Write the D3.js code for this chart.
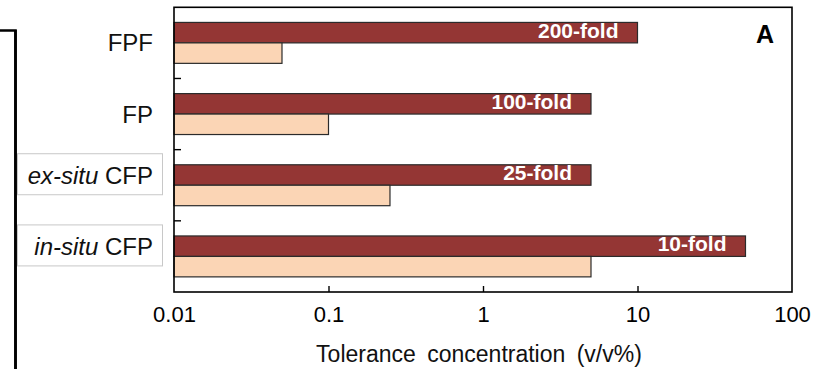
<!DOCTYPE html>
<html><head><meta charset="utf-8">
<script src="https://cdn.jsdelivr.net/npm/d3@7"></script>
<style>body{margin:0;background:#fff}svg{display:block}text{font-family:"Liberation Sans",Arial,sans-serif}</style>
</head><body>
<svg id="c" width="825" height="369"></svg>
<script>
const categories = ["FPF", "FP", "ex-situ CFP", "in-situ CFP"];
const enhancedValues = [10, 5, 5, 50];
const baseValues = [0.05, 0.1, 0.25, 5];
const foldLabels = ["200-fold", "100-fold", "25-fold", "10-fold"];
const xTickValues = [0.01, 0.1, 1, 10, 100];
const seriesKeys = ["enhanced", "base"];
const seriesColors = ["#943634", "#FBD5B5"];
const axisTitle = "Tolerance concentration (v/v%)";
const panelLabel = "A";

const svg = d3.select("#c");
const L = 174, R = 792, T = 7.3, B = 292;

const x = d3.scaleLog().domain([0.01, 100]).range([L, R]);
const y = d3.scaleBand().domain(categories).range([T, B]).paddingInner(0.425).paddingOuter(0.2125);
const ys = d3.scaleBand().domain(seriesKeys).range([0, y.bandwidth()]);

const rows = categories.map((c, i) => ({cat: c, enhanced: enhancedValues[i], base: baseValues[i], fold: foldLabels[i]}));

// bars
const g = svg.append("g");
rows.forEach(r => {
  seriesKeys.forEach((k, j) => {
    g.append("rect")
      .attr("x", x(0.01))
      .attr("y", y(r.cat) + ys(k))
      .attr("width", x(r[k]) - x(0.01))
      .attr("height", ys.bandwidth())
      .attr("fill", seriesColors[j])
      .attr("stroke", "#2b2b2b")
      .attr("stroke-width", 1.2);
  });
  g.append("text")
    .attr("x", x(r.enhanced) - 19)
    .attr("y", y(r.cat) + ys("enhanced") + ys.bandwidth() / 2 + 5)
    .attr("text-anchor", "end")
    .attr("fill", "#fff")
    .attr("font-weight", "bold")
    .attr("font-size", 21)
    .text(r.fold);
});

// frame
svg.append("rect").attr("x", L).attr("y", T).attr("width", R - L).attr("height", B - T)
  .attr("fill", "none").attr("stroke", "#000").attr("stroke-width", 1.6);

// x axis
const xAxis = d3.axisBottom(x).tickValues(xTickValues).tickFormat(d => String(d)).tickSizeInner(-6).tickSizeOuter(0).tickPadding(14);
const xg = svg.append("g").attr("transform", `translate(0,${B})`).call(xAxis);
xg.select(".domain").remove();
xg.selectAll(".tick line").attr("stroke", "#000").attr("stroke-width", 1.4)
  .filter(d => d === 0.01 || d === 100).remove();
xg.selectAll(".tick text").attr("font-size", 22).attr("fill", "#000").attr("font-family", "Liberation Sans, Arial, sans-serif");

// y ticks between categories
const boundaries = categories.slice(1).map(c => y(c) - y.step() * y.paddingInner() / 2);
svg.selectAll(".ytick").data(boundaries).enter().append("line")
  .attr("x1", L).attr("x2", L + 7).attr("y1", d => d).attr("y2", d => d)
  .attr("stroke", "#000").attr("stroke-width", 1.4);

// axis title
svg.append("text").attr("x", (313 + 645) / 2).attr("y", 362).attr("text-anchor", "middle")
  .attr("font-size", 23).attr("word-spacing", 5).attr("fill", "#111").text(axisTitle);

// panel label
svg.append("text").attr("x", 774).attr("y", 43).attr("text-anchor", "end")
  .attr("font-size", 25).attr("font-weight", "bold").text(panelLabel);

// left bracket
svg.append("path").attr("d", "M0,30.5 H15.5 V369").attr("fill", "none").attr("stroke", "#000").attr("stroke-width", 2.6);

// category labels
categories.forEach(c => {
  const boxed = c.includes("-situ");
  const cy = y(c) + y.bandwidth() / 2 + (boxed ? -10 : 0);
  if (boxed) {
    svg.append("rect").attr("x", 17.5).attr("y", cy - 21.5).attr("width", 145).attr("height", 41)
      .attr("fill", "#fff").attr("stroke", "#c8c8c8").attr("stroke-width", 1);
  }
  const t = svg.append("text").attr("x", 153).attr("y", cy + 8.5).attr("text-anchor", "end")
    .attr("font-size", 24).attr("fill", "#111");
  if (boxed) {
    const sp = c.indexOf(" ");
    t.append("tspan").attr("font-style", "italic").text(c.slice(0, sp));
    t.append("tspan").text(c.slice(sp));
  } else {
    t.text(c);
  }
});
// redraw bracket on top of boxes
svg.append("line").attr("x1", 15.5).attr("x2", 15.5).attr("y1", 30).attr("y2", 369).attr("stroke", "#000").attr("stroke-width", 2.6);
</script>
</body></html>
